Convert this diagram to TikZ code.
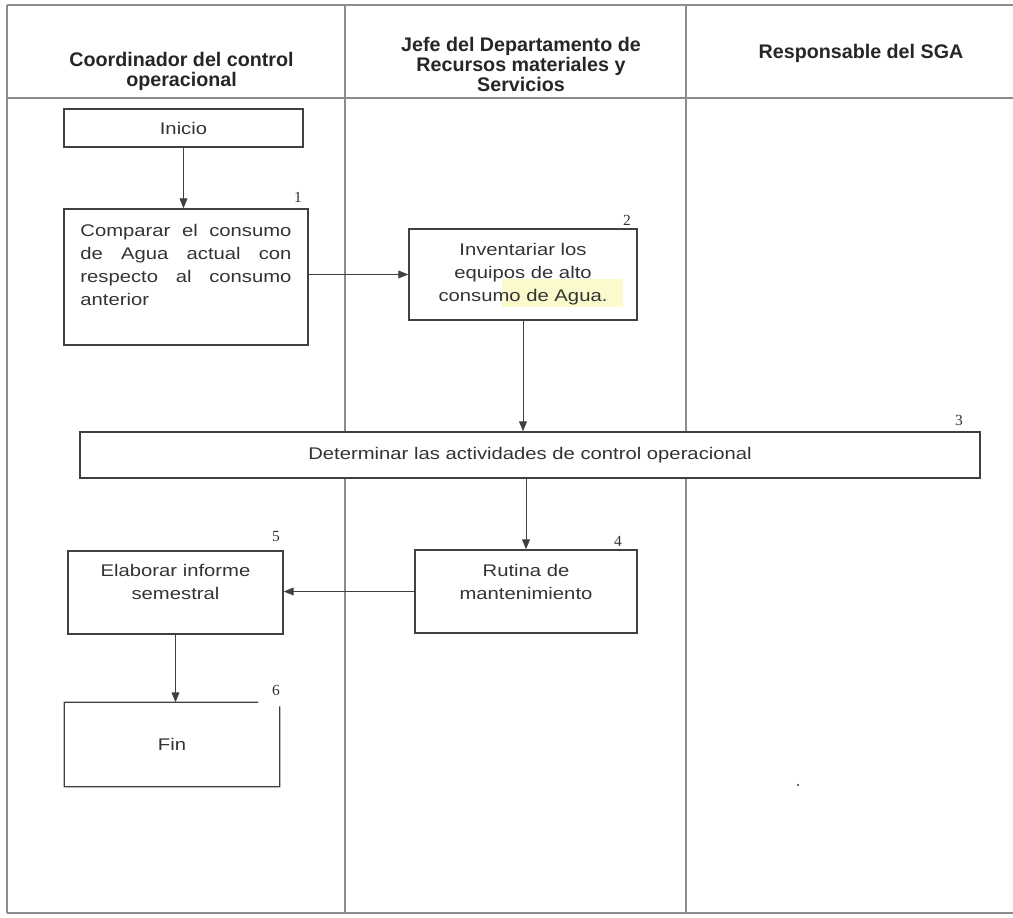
\documentclass[tikz,border=0pt]{standalone}
\usepackage{fontspec}
\setmainfont{Liberation Sans}
\newfontfamily\bodyfont[FakeStretch=1.2]{Liberation Sans}
\newfontfamily\numfont{Liberation Serif}
\usetikzlibrary{arrows.meta,calc,positioning}
\definecolor{lineink}{rgb}{0.25,0.25,0.25}
\definecolor{laneink}{rgb}{0.55,0.55,0.55}
\definecolor{aguayellow}{rgb}{0.98,0.98,0.80}
\hyphenpenalty=10000
\exhyphenpenalty=10000
\tikzset{
  laneline/.style={draw=laneink, line width=0.8pt},
  lanehead/.style={font=\fontsize{14}{14.2}\selectfont\bfseries, align=center, text=black!85},
  stepbox/.style={draw=lineink, line width=1pt, inner sep=0pt, font=\bodyfont\fontsize{12}{16.4}\selectfont, text=black!80},
  steptext/.style={inner sep=0pt, font=\bodyfont\fontsize{12}{16.4}\selectfont, text=black!80},
  stepnum/.style={font=\numfont\fontsize{11}{11}\selectfont, text=black!80, inner sep=0pt},
  flow/.style={draw=lineink, line width=0.7pt, -{Triangle[length=7pt,width=5.5pt]}}
}

\begin{document}
\begin{tikzpicture}[x=0.025cm,y=-0.025cm]
    \useasboundingbox (0,0) rectangle (1013,918);
    % lanes
    \draw[laneline] (7,5) -- (1013,5);
    \draw[laneline] (7,98) -- (1013,98);
    \draw[laneline] (7,913) -- (1013,913);
    \foreach \x in {7,345,686}
        \draw[laneline] (\x,5) -- (\x,913);
    \node[lanehead] (lane1) at (181.5,71) {Coordinador del control\\operacional};
    \node[lanehead] (lane2) at (521,64) {Jefe del Departamento de\\Recursos materiales y\\Servicios};
    \node[lanehead] (lane3) at (861,53) {Responsable del SGA};

    % steps
    \node[stepbox, minimum width=5.975cm, minimum height=0.95cm] (inicio) at (183.5,128) {Inicio};
    \node[stepbox, minimum width=6.1cm, minimum height=3.4cm] (comparar) at (186,277) {};
    \node[steptext, text width=5.275cm, align=justify, anchor=north] (comparar-txt) at ([yshift=-0.4cm]comparar.north) {Comparar el consumo de Agua actual con respecto al consumo anterior};
    \fill[aguayellow] (502,279) rectangle (623,307);
    \node[stepbox, minimum width=5.7cm, minimum height=2.275cm, align=center] (inventariar) at (523,274.5) {Inventariar los\\equipos de alto\\consumo de Agua.};
    \node[stepbox, fill=white, minimum width=22.5cm, minimum height=1.15cm] (determinar) at (530,455) {Determinar las actividades de control operacional};
    \node[stepbox, minimum width=5.55cm, minimum height=2.075cm] (rutina) at (526,591.5) {};
    \node[steptext, align=center, anchor=north] (rutina-txt) at ([yshift=-0.375cm]rutina.north) {Rutina de\\mantenimiento};
    \node[stepbox, minimum width=5.375cm, minimum height=2.075cm] (elaborar) at (175.5,592.5) {};
    \node[steptext, align=center, anchor=north] (elaborar-txt) at ([yshift=-0.35cm]elaborar.north) {Elaborar informe\\semestral};
    \node[stepbox, draw=none, minimum width=5.35cm, minimum height=2.075cm] (fin) at (172,744.5) {Fin};
    \draw[draw=lineink, line width=1pt] ($(fin.north west)!0.9!(fin.north east)$) -- (fin.north west) -- (fin.south west) -- (fin.south east) -- ([yshift=-0.1cm]fin.north east);

    % step numbers
    \node[stepnum] (num1) at (298,197) {1};
    \node[stepnum] (num2) at (627,220) {2};
    \node[stepnum] (num3) at (959,420) {3};
    \node[stepnum] (num4) at (618,541) {4};
    \node[stepnum] (num5) at (276,537) {5};
    \node[stepnum] (num6) at (276,690) {6};

    % connectors
    \draw[flow] (inicio.south) -- (inicio.south |- comparar.north);
    \draw[flow] (comparar.east |- inventariar.west) -- (inventariar.west);
    \draw[flow] (inventariar.south) -- (inventariar.south |- determinar.north);
    \draw[flow] (rutina.north |- determinar.south) -- (rutina.north);
    \draw[flow] (rutina.west) -- (rutina.west -| elaborar.east);
    \draw[flow] (elaborar.south) -- (elaborar.south |- fin.north);

    \fill[lineink] (798,785) circle (1.2);
\end{tikzpicture}
\end{document}
